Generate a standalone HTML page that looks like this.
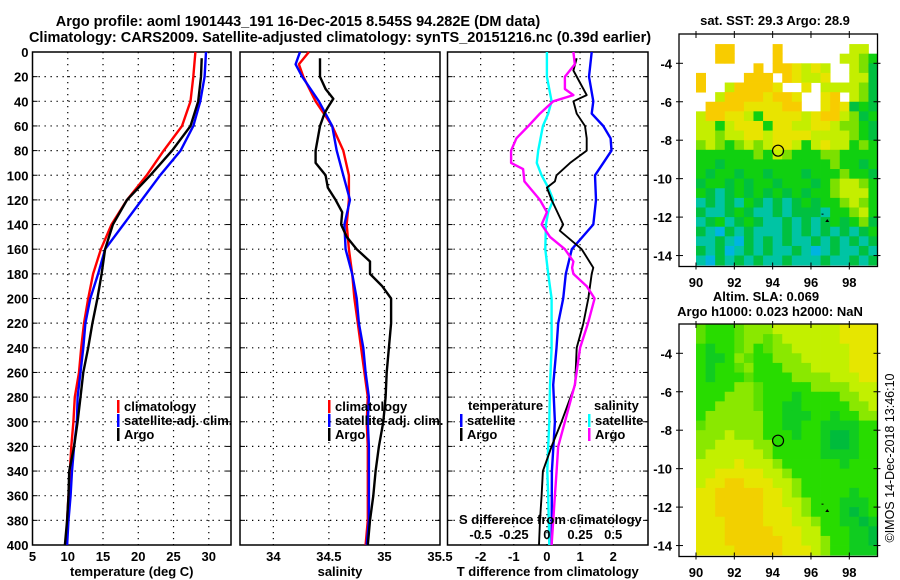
<!DOCTYPE html>
<html><head><meta charset="utf-8"><style>
html,body{margin:0;padding:0;background:#fff;}
svg{display:block;font-family:"Liberation Sans",Arial,sans-serif;font-weight:bold;}
</style></head><body>
<svg id="fig" width="900" height="580" viewBox="0 0 900 580" xmlns="http://www.w3.org/2000/svg">
<text x="298" y="26" font-size="14.5" text-anchor="middle">Argo profile: aoml 1901443_191 16-Dec-2015 8.545S 94.282E (DM data)</text>
<text x="340" y="42" font-size="14.5" text-anchor="middle">Climatology: CARS2009. Satellite-adjusted climatology: synTS_20151216.nc (0.39d earlier)</text>
<text x="775" y="25" font-size="13" text-anchor="middle">sat. SST: 29.3 Argo: 28.9</text>
<text x="766" y="301" font-size="13" text-anchor="middle">Altim. SLA: 0.069</text>
<text x="770" y="316" font-size="13" text-anchor="middle">Argo h1000: 0.023 h2000: NaN</text>
<text x="0" y="0" font-size="12.5" transform="translate(894,458) rotate(-90)" text-anchor="middle" font-weight="normal">©IMOS 14-Dec-2018 13:46:10</text>
<g id="g"></g>
</svg>
<script>
// ---- profile data ----
const depthsT = [0,20,40,60,80,100,120,140,160,180,200,220,240,260,280,300,320,340,360,380,400];
const tempClim = [28.1,27.8,27.4,26.2,23.6,21.2,18.4,16.2,14.7,13.6,12.9,12.3,11.9,11.6,11.0,10.8,10.5,10.3,10.1,9.9,9.9];
const tempSat  = [29.6,29.4,28.8,27.8,26.0,23.1,20.5,17.9,15.3,14.3,13.2,12.5,12.2,11.8,11.4,11.3,10.9,10.6,10.4,10.1,9.9];
const depthsArgoT = [5,20,40,60,80,100,120,140,160,180,200,220,240,260,280,300,320,340,360,380,400];
const tempArgo = [29.0,28.9,28.5,27.4,24.8,21.7,18.4,16.4,15.3,14.8,14.2,13.5,12.9,12.2,11.8,11.4,10.9,10.2,10.1,9.9,9.6];

const depthsS = [0,10,20,40,60,80,100,120,140,160,180,200,220,240,260,280,300,320,340,360,380,400];
const salClim = [34.32,34.23,34.27,34.38,34.53,34.63,34.68,34.68,34.66,34.68,34.71,34.73,34.76,34.79,34.82,34.85,34.84,34.85,34.85,34.85,34.85,34.83];
const salSat  = [34.24,34.20,34.26,34.41,34.53,34.57,34.63,34.69,34.64,34.65,34.71,34.75,34.77,34.81,34.83,34.86,34.85,34.86,34.86,34.86,34.86,34.84];
const depthsArgoS = [5,20,30,38,45,50,60,80,90,100,110,120,130,140,150,160,170,175,180,190,200,220,240,260,280,300,320,340,360,380,400];
const salArgo = [34.42,34.42,34.47,34.54,34.49,34.46,34.42,34.38,34.38,34.47,34.49,34.56,34.62,34.61,34.66,34.75,34.87,34.87,34.87,34.98,35.06,35.06,35.04,35.02,35.01,34.99,34.95,34.92,34.90,34.87,34.85];

const depthsDSat = [0,20,40,50,60,70,80,90,100,120,140,160,180,200,220,240,270,300,340,400];
const dTSat = [1.35,1.27,1.40,1.35,1.70,1.92,1.95,1.70,1.45,1.48,1.40,0.75,0.57,0.49,0.34,0.29,0.19,0.24,0.15,0.14];
const depthsDTArgo = [5,15,30,35,40,50,60,70,80,90,100,105,110,120,140,145,160,175,180,200,220,240,270,300,320,340,360,380,400];
const dTArgo = [0.9,0.8,1.1,1.2,0.8,0.9,1.15,1.2,1.2,0.7,0.29,0.24,0.0,0.14,0.49,0.39,1.05,1.4,1.35,1.25,1.1,0.9,0.85,0.44,0.14,-0.12,-0.16,-0.21,-0.24];
const depthsDSSat = [0,20,40,50,60,80,90,100,110,120,130,140,160,180,200,240,270,300,320,340,360,400];
const dSSat = [0.0,0.0,0.035,0.01,-0.03,-0.066,-0.076,-0.04,0.01,0.048,0.01,-0.008,-0.012,0.01,0.035,0.035,0.023,0.018,0.01,0.003,0.01,0.018];
const depthsDSArgo = [0,10,20,30,35,40,50,60,70,80,90,95,105,120,130,140,150,160,170,175,180,190,200,220,240,270,300,320,340,360,400];
const dSArgo = [0.2,0.21,0.136,0.136,0.2,0.048,-0.053,-0.14,-0.23,-0.27,-0.27,-0.18,-0.17,-0.053,0.0,-0.04,0.023,0.136,0.2,0.19,0.2,0.3,0.36,0.31,0.25,0.21,0.136,0.085,0.073,0.06,0.035];

const depthTicks = [0,20,40,60,80,100,120,140,160,180,200,220,240,260,280,300,320,340,360,380,400];
const tempTicks = [5,10,15,20,25,30];
const salTicks = [34,34.5,35,35.5];
const salTickLabels = ["34","34.5","35","35.5"];
const dTTicks = [-2,-1,0,1,2];
const dSTicks = [-0.5,-0.25,0,0.25,0.5];
const dSTickLabels = ["-0.5","-0.25","0","0.25","0.5"];

// ---- map data (0.5 deg cells, rows from lat -2.5 southward, cols from lon 90) ----
const mapLons = [90,99.5];
const mapLats = [-2.5,-14.5];
const lonTicks = [90,92,94,96,98];
const latTicks = [-4,-6,-8,-10,-12,-14];
const sstRows = [
"...................",
"..OO....O.......yy.",
"..OO....O......yyLG",
"......O.OOYyYy..yLg",
"O....OOO.OYyyY..yyg",
"O..yOOOOY..Y.yyyyLg",
"..yOOOOYOOY..YO.yLg",
".OOOOYYYYOO..YOYgGg",
"yOOYYyGYYYYyYOOyLgG",
"yyGyYYYGYYyyYYyLLGg",
"yyLyyYYyYYYYyyyyLGg",
"LyLGLyLyYYyGyYyyGLG",
"GGGGGGLGyLGGGLLGGGG",
"GGgGGGGGGGGGGGLGGgG",
"GgGGgGGgGGGgGGGLGGg",
"gGGgGgGGgGGGgGLyyLG",
"GgTgGgGgGgGgGGLyyyG",
"TgTgTGgTgTgGgGGLyLG",
"gTTgGgTTgTgggTGGLyG",
"TgGTgGgTTgTgTgGgGLg",
"gTCgTgTTTgTgTgTgTgG",
"TTgTCgTgTgTTgTgTgTg",
"gTgCTgTgTTgTCTgTTgT",
"TCgTgTgTTgTTTgTTgTg"];
const slaRows = [
"lGGGlLLLyyyyyyyYYYY",
"lGGGlLLlLyyyyyyYYYY",
"GgGGlLGlLLyyyyyyYYY",
"GggGLlGGLLLyyyyyYYY",
"GgGGlLGGGLLLyyyyYYY",
"GgGGGlGGGGLLLLyyyYY",
"GGGGLLlGGGGGLLLLyyy",
"GGGLLLlGGGgGGGGLLyy",
"GGLLLLlGGggGGGGGLLy",
"GLLLLLLGGgggGGgGGLL",
"lLLLLLLGGggGGggggGG",
"LLLyLLLGGGgGGgddgGG",
"LLyyyyLLGGGGGgddgGG",
"LyyyyyyLGGGGGggggGG",
"yyyyYyyyLGGGGGGgGGG",
"yyYYYYYyyLGGGGGGGGG",
"yYYooYYYyyLGGGGGGGG",
"YYoooooYYyLGGGGGgGG",
"YYoooooYYyyLGGGgggG",
"YYoooooYYYyLGGGgdgG",
"YYYooooYYYyyLGGggdg",
"YYYoooooYYYyyGGGggd",
"YYYooooooYYyyLGGggd",
"YYYYoooooYYYyLGGggg"];
const argoLon = 94.282, argoLat = -8.545;

const sstColors = {O:"#f8cc00",Y:"#e8e400",y:"#c4ee00",L:"#7ce000",G:"#10d010",g:"#00c040",T:"#00c4a4",C:"#00b4e0"};
const slaColors = {o:"#f2d000",Y:"#e6e600",y:"#c2f000",L:"#8ae800",l:"#5ce000",G:"#28dc00",g:"#10cc20",d:"#00bc3c"};

const NS="http://www.w3.org/2000/svg";
const root=document.getElementById('g');
function mk(tag,attrs,parent){const e=document.createElementNS(NS,tag);for(const k in attrs)e.setAttribute(k,attrs[k]);(parent||root).appendChild(e);return e;}
function lin(d0,d1,r0,r1){return v=>r0+(v-d0)/(d1-d0)*(r1-r0);}

const TOP=52,BOT=545;
const yD=lin(0,400,TOP,BOT);

function panel(name,L,R,xs,ticks,labels,xtitle,showY){
  const g=mk('g',{});
  
  
  depthTicks.slice(1,-1).forEach(d=>{
    const l=mk('line',{x1:L,x2:R,y1:yD(d),y2:yD(d),stroke:'#000','stroke-width':1.2,'stroke-dasharray':'1.3,4.7'},g);
    
    
  });
  ticks.forEach((t,i)=>{
    const x=xs(t);
    if(x>L+2&&x<R-2){
      const l=mk('line',{x1:x,x2:x,y1:TOP,y2:BOT,stroke:'#000','stroke-width':1.2,'stroke-dasharray':'1.3,4.7'},g);
      
      
    }
    const t2=mk('text',{x:x,y:BOT+16,'font-size':13,'text-anchor':'middle'},g);
    t2.textContent=labels[i];
    
    
  });
  depthTicks.forEach(d=>{
    mk('line',{x1:R-5,x2:R,y1:yD(d),y2:yD(d),stroke:'#000','stroke-width':1},g);
    mk('line',{x1:L,x2:L+5,y1:yD(d),y2:yD(d),stroke:'#000','stroke-width':1},g);
    if(showY){
      const t=mk('text',{x:L-4,y:yD(d)+5,'font-size':13,'text-anchor':'end'},g);
      t.textContent=String(d);
      
      
    }
  });
  const b=mk('rect',{x:L,y:TOP,width:R-L,height:BOT-TOP,fill:'none',stroke:'#000','stroke-width':1.5},g);
  
  
  const xt=mk('text',{x:(L+R)/2,y:576,'font-size':13,'text-anchor':'middle'},g);
  xt.textContent=xtitle;
  
  
  return g;
}
function line(g,name,xs,vals,deps,color,w){
  const pts=vals.map((v,i)=>xs(v).toFixed(1)+','+yD(deps[i]).toFixed(1)).join(' ');
  const p=mk('polyline',{points:pts,fill:'none',stroke:color,'stroke-width':w,'stroke-linejoin':'round'},g);
  
  
}
function legend(g,name,x,y,color,label){
  const r=mk('rect',{x:x,y:y-11,width:2.5,height:13,fill:color},g);
  
  
  if(label){
    const t=mk('text',{x:x+7,y:y,'font-size':13},g);
    t.textContent=label;
    
    
  }
}

const xT=lin(5,33.15,32.5,231);
const p1=panel('temperature-panel',32.5,231,xT,tempTicks,tempTicks.map(String),'temperature (deg C)',true);
line(p1,'temp-climatology-line',xT,tempClim,depthsT,'#f00',2.4);
line(p1,'temp-satellite-line',xT,tempSat,depthsT,'#00f',2.4);
line(p1,'temp-argo-line',xT,tempArgo,depthsArgoT,'#000',2.4);
legend(p1,'legend-climatology',117,411,'#f00','climatology');
legend(p1,'legend-satellite-adj',117,425,'#00f','satellite-adj. clim.');
legend(p1,'legend-argo',117,439,'#000','Argo');

const xS=lin(33.7,35.5,240,440);
const p2=panel('salinity-panel',240,440,xS,salTicks,salTickLabels,'salinity',false);
line(p2,'sal-climatology-line',xS,salClim,depthsS,'#f00',2.4);
line(p2,'sal-satellite-line',xS,salSat,depthsS,'#00f',2.4);
line(p2,'sal-argo-line',xS,salArgo,depthsArgoS,'#000',2.4);
legend(p2,'legend-climatology-s',328,411,'#f00','climatology');
legend(p2,'legend-satellite-adj-s',328,425,'#00f','satellite-adj. clim.');
legend(p2,'legend-argo-s',328,439,'#000','Argo');

const xDT=lin(-3,3.05,447.5,648);
const xDS=v=>xDT(v*4);
const p3=panel('difference-panel',447.5,648,xDT,dTTicks,dTTicks.map(String),'T difference from climatology',false);
line(p3,'dS-satellite-line',xDS,dSSat,depthsDSSat,'#0ff',2.4);
line(p3,'dT-satellite-line',xDT,dTSat,depthsDSat,'#00f',2.4);
line(p3,'dT-argo-line',xDT,dTArgo,depthsDTArgo,'#000',1.9);
line(p3,'dS-argo-line',xDS,dSArgo,depthsDSArgo,'#f0f',2.4);
{const t=mk('text',{x:468,y:410,'font-size':13},p3);t.textContent='temperature';

}
legend(p3,'legend-dT-satellite',460,425,'#00f','satellite');
legend(p3,'legend-dT-argo',460,439,'#000','Argo');
{const t=mk('text',{x:594,y:410,'font-size':13},p3);t.textContent='salinity';

}
legend(p3,'legend-dS-satellite',588,425,'#0ff','satellite');
legend(p3,'legend-dS-argo',588,439,'#f0f','Argo');
{const t=mk('text',{x:459,y:524,'font-size':13},p3);t.textContent='S difference from climatology';

}
dSTicks.forEach((v,i)=>{
  const t=mk('text',{x:xDS(v),y:539,'font-size':13,'text-anchor':'middle'},p3);
  t.textContent=dSTickLabels[i];
  
  
});

function map(name,rows,colors,L,R,T,B,tickLabelY){
  const g=mk('g',{});
  
  
  const xl=lin(90,98,696,849.3);
  const yl=lin(-4,-14,T+29.3,T+29.3+5*38.45);
  rows.forEach((row,r)=>{
    for(let c=0;c<row.length;c++){
      const ch=row[c];
      if(!colors[ch])continue;
      const lon0=mapLons[0]+c*0.5, lat0=mapLats[0]-r*0.5;
      const x0=xl(lon0),x1=Math.min(xl(lon0+0.5),R),y0=yl(lat0),y1=Math.min(yl(lat0-0.5),B);
      const cell=mk('rect',{x:x0.toFixed(2),y:y0.toFixed(2),width:(x1-x0+0.4).toFixed(2),height:(y1-y0+0.4).toFixed(2),fill:colors[ch]},g);
      
      
    }
  });
  const circ=mk('circle',{cx:xl(argoLon),cy:yl(argoLat),r:5.5,fill:'none',stroke:'#000','stroke-width':1.2},g);
  
  
  const tri=mk('polygon',{points:`${xl(96.85)-2},${yl(-12.18)+1.5} ${xl(96.85)+2},${yl(-12.18)+1.5} ${xl(96.85)},${yl(-12.18)-1.5}`,fill:'#000'},g);
  
  
  mk('rect',{x:xl(96.55),y:yl(-11.82),width:2,height:1,fill:'#000'},g);
  const fr=mk('rect',{x:L,y:T,width:R-L,height:B-T,fill:'none',stroke:'#000','stroke-width':1.3},g);
  
  
  lonTicks.forEach(v=>{
    const x=xl(v);
    mk('line',{x1:x,x2:x,y1:B-4,y2:B+3,stroke:'#000'},g);
    mk('line',{x1:x,x2:x,y1:T-3,y2:T+4,stroke:'#000'},g);
    const t=mk('text',{x:x,y:tickLabelY,'font-size':13,'text-anchor':'middle'},g);
    t.textContent=String(v);
    
    
  });
  latTicks.forEach(v=>{
    const y=yl(v);
    mk('line',{x1:L-3,x2:L+4,y1:y,y2:y,stroke:'#000'},g);
    mk('line',{x1:R-4,x2:R+3,y1:y,y2:y,stroke:'#000'},g);
    const t=mk('text',{x:L-7,y:y+5,'font-size':13,'text-anchor':'end'},g);
    t.textContent=String(v);
    
    
  });
}
map('sst-map',sstRows,sstColors,679,877.5,34,266.5,287);
map('sla-map',slaRows,slaColors,679,877.5,324,556.5,577);
</script>
</body></html>
